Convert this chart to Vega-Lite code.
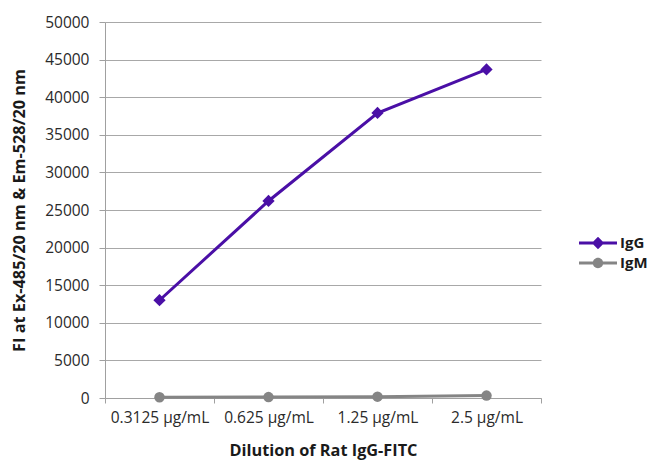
{
  "$schema": "https://vega.github.io/schema/vega-lite/v6.json",
  "width": 436,
  "height": 376,
  "autosize": {"type": "none"},
  "padding": {"left": 105, "top": 22, "right": 110, "bottom": 63},
  "background": "white",
  "config": {
    "view": {"stroke": null},
    "font": "Open Sans",
    "axis": {"labelFont": "Open Sans", "titleFont": "Open Sans"},
    "legend": {"labelFont": "Open Sans"}
  },
  "data": {
    "values": [
      {"dilution": "0.3125 µg/mL", "series": "IgG", "value": 13000},
      {"dilution": "0.625 µg/mL", "series": "IgG", "value": 26200},
      {"dilution": "1.25 µg/mL", "series": "IgG", "value": 37900},
      {"dilution": "2.5 µg/mL", "series": "IgG", "value": 43700},
      {"dilution": "0.3125 µg/mL", "series": "IgM", "value": 100},
      {"dilution": "0.625 µg/mL", "series": "IgM", "value": 120},
      {"dilution": "1.25 µg/mL", "series": "IgM", "value": 180},
      {"dilution": "2.5 µg/mL", "series": "IgM", "value": 320}
    ]
  },
  "encoding": {
    "x": {
      "field": "dilution",
      "type": "nominal",
      "sort": ["0.3125 µg/mL", "0.625 µg/mL", "1.25 µg/mL", "2.5 µg/mL"],
      "scale": {"type": "band", "paddingInner": 0, "paddingOuter": 0},
      "axis": {
        "title": "Dilution of Rat IgG-FITC",
        "titleFontSize": 16.3,
        "titleFontWeight": "bold",
        "titleColor": "#1a1a1a",
        "titlePadding": 17,
        "labelAngle": 0,
        "labelFontSize": 15.5,
        "labelColor": "#2a2a2a",
        "labelPadding": 7,
        "tickBand": "extent",
        "tickSize": 5,
        "tickColor": "#a0a0a0",
        "domainColor": "#a0a0a0",
        "grid": false
      }
    },
    "y": {
      "field": "value",
      "type": "quantitative",
      "scale": {"domain": [0, 50000], "nice": false},
      "axis": {
        "title": "FI at Ex-485/20 nm & Em-528/20 nm",
        "titleFontSize": 16.3,
        "titleFontWeight": "bold",
        "titleColor": "#1a1a1a",
        "titlePadding": 17,
        "values": [0, 5000, 10000, 15000, 20000, 25000, 30000, 35000, 40000, 45000, 50000],
        "format": "d",
        "labelFontSize": 15.5,
        "labelColor": "#2a2a2a",
        "labelPadding": 10,
        "tickSize": 6,
        "tickColor": "#a0a0a0",
        "domainColor": "#a0a0a0",
        "grid": true,
        "gridColor": "#a8a8a8",
        "gridWidth": 1
      }
    }
  },
  "layer": [
    {
      "mark": {"type": "line", "strokeWidth": 3},
      "encoding": {
        "color": {"field": "series", "type": "nominal", "scale": {"domain": ["IgG", "IgM"], "range": ["#4a0fa6", "#858585"]}, "legend": null}
      }
    },
    {
      "mark": {"type": "point", "filled": true, "opacity": 1},
      "encoding": {
        "color": {"field": "series", "type": "nominal", "scale": {"domain": ["IgG", "IgM"], "range": ["#4a0fa6", "#858585"]}, "legend": null},
        "shape": {"field": "series", "type": "nominal", "scale": {"domain": ["IgG", "IgM"], "range": ["diamond", "circle"]}, "legend": null},
        "size": {"field": "series", "type": "nominal", "scale": {"domain": ["IgG", "IgM"], "range": [150, 110]}, "legend": null}
      }
    },
    {
      "transform": [{"filter": "datum.value > 1000000"}],
      "mark": {"type": "point", "filled": true, "opacity": 1, "size": 400, "strokeWidth": 0},
      "encoding": {
        "color": {"field": "series", "type": "nominal", "scale": {"domain": ["IgG", "IgM"], "range": ["#4a0fa6", "#858585"]},
          "legend": {
            "title": null,
            "orient": "none",
            "legendX": 483,
            "legendY": 211,
            "padding": 0,
            "labelFontSize": 15,
            "labelFontWeight": "bold",
            "labelColor": "#1a1a1a",
            "symbolSize": 400,
            "symbolStrokeWidth": 0,
            "symbolOpacity": 1,
            "rowPadding": 2,
            "labelOffset": 12,
            "encode": {
              "symbols": {
                "update": {
                  "shape": {"signal": "datum.value === 'IgG' ? 'M-1.9,-0.15H1.9V0.15H-1.9Z M0,-0.62L0.62,0L0,0.62L-0.62,0Z' : 'M-1.9,-0.15H1.9V0.15H-1.9Z M0.52,0A0.52,0.52 0 1 1 -0.52,0A0.52,0.52 0 1 1 0.52,0Z'"}
                }
              }
            }
          }
        }
      }
    }
  ],
  "resolve": {"scale": {"shape": "independent", "size": "independent", "color": "independent"}}
}
